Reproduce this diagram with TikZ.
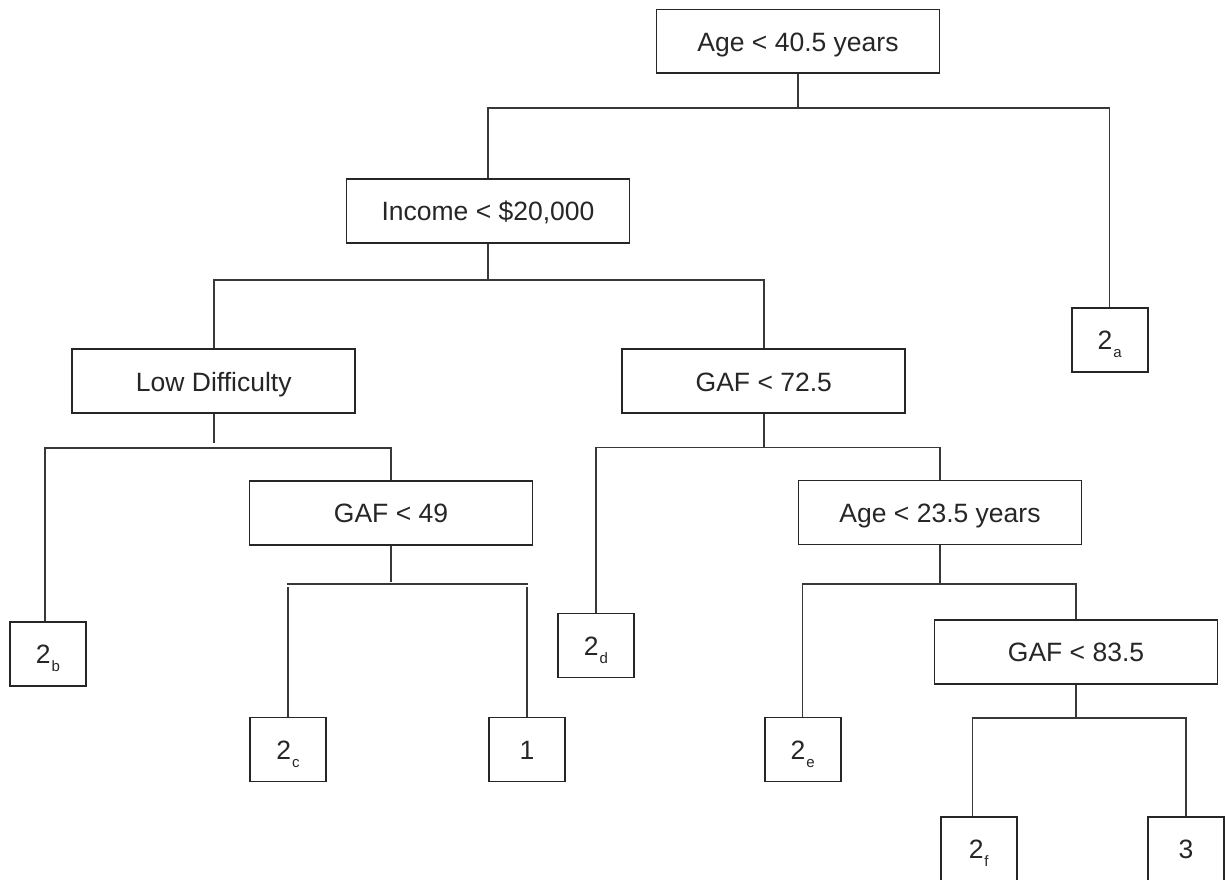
\documentclass[tikz,border=0pt]{standalone}
\usepackage{fontspec}
\setmainfont{Liberation Sans}
\newcommand\subl[1]{\hspace{1pt}\raisebox{-8pt}{\fontsize{15}{15}\selectfont #1}}
\begin{document}
\begin{tikzpicture}[x=1pt,y=-1pt,
  box/.style={draw=black!85, line width=1.8pt, minimum width=283pt, minimum height=64pt,
    inner sep=0pt, text height=19.5pt, text depth=0pt,
    font=\fontsize{26.5}{30}\selectfont, text=black!85},
  leaf/.style={box, minimum width=76pt},
  conn/.style={draw=black!78, line width=1.5pt}]
\useasboundingbox (0,0) rectangle (1225,879);
\fill[white] (0,0) rectangle (1225,879);

% decision nodes
\node[box, minimum height=63.5pt] (root)   at (798,41.3)   {Age < 40.5 years};
\node[box] (income) at (488,211)    {Income < \$20,000};
\node[box] (lowdiff) at (213.8,381.3) {Low Difficulty};
\node[box] (gaf725) at (763.8,381.3) {GAF < 72.5};
\node[box] (gaf49)  at (391,512.7)  {GAF < 49};
\node[box] (age235) at (940,512.5)  {Age < 23.5 years};
\node[box] (gaf835) at (1076,652)   {GAF < 83.5};

% leaves
\node[leaf] (la) at (1109.7,339.7) {2\subl{a}};
\node[leaf] (lb) at (48,654)       {2\subl{b}};
\node[leaf] (lc) at (288,749.5)    {2\subl{c}};
\node[leaf] (l1) at (527,749.5)    {1};
\node[leaf] (ld) at (596,645.5)    {2\subl{d}};
\node[leaf] (le) at (802.7,749.5)  {2\subl{e}};
\node[leaf] (lf) at (978.7,849)    {2\subl{f}};
\node[leaf] (l3) at (1186,849)     {3};

% bar levels
\coordinate (b0) at (0,108);
\coordinate (b1) at (0,280);
\coordinate (b2) at (0,448);
\coordinate (b2s) at (0,443);
\coordinate (b3) at (0,447.5);
\coordinate (b4) at (0,584);
\coordinate (b4s) at (0,581.7);
\coordinate (b4c) at (0,587);
\coordinate (b5) at (0,584);
\coordinate (b6) at (0,718);

% root
\draw[conn] (root.south) -- (root.south |- b0);
\draw[conn] (income.north) -- (income.north |- b0) -| (la.north);
% income
\draw[conn] (income.south) -- (income.south |- b1);
\draw[conn] (lowdiff.north) -- (lowdiff.north |- b1) -| (gaf725.north);
% low difficulty
\draw[conn] (lowdiff.south) -- (lowdiff.south |- b2s);
\draw[conn] ([xshift=-3pt]lb.north) -- ([xshift=-3pt]lb.north |- b2) -| (gaf49.north);
% GAF < 49
\draw[conn] (gaf49.south) -- (gaf49.south |- b4s);
\draw[conn] ([xshift=-1pt]lc.north |- b4) -- ([xshift=1pt]l1.north |- b4);
\draw[conn] (lc.north) -- (lc.north |- b4c);
\draw[conn] (l1.north) -- (l1.north |- b4c);
% GAF < 72.5
\draw[conn] (gaf725.south) -- (gaf725.south |- b3);
\draw[conn] (ld.north) -- (ld.north |- b3) -| (age235.north);
% Age < 23.5
\draw[conn] (age235.south) -- (age235.south |- b5);
\draw[conn] (le.north) -- (le.north |- b5) -| (gaf835.north);
% GAF < 83.5
\draw[conn] (gaf835.south) -- (gaf835.south |- b6);
\draw[conn] ([xshift=-6pt]lf.north) -- ([xshift=-6pt]lf.north |- b6) -| (l3.north);
\end{tikzpicture}
\end{document}
